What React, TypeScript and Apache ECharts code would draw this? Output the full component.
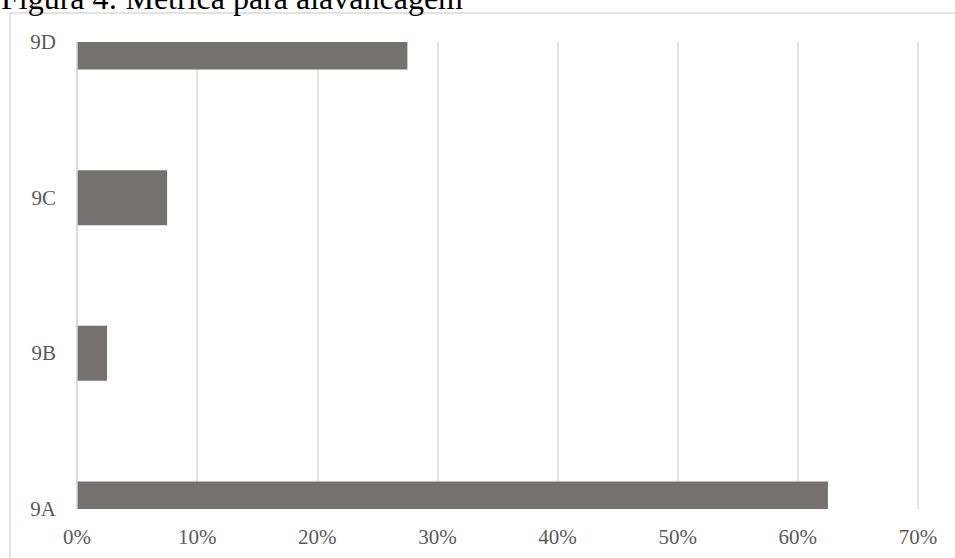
import React, { useEffect, useRef } from "react";
import * as echarts from "echarts";

const categories = ["9A", "9B", "9C", "9D"];
const values = [62.5, 2.5, 7.5, 27.5];
const xTicks = [0, 10, 20, 30, 40, 50, 60, 70];
const titleText = "Figura 4: Métrica para alavancagem";

export default function App() {
  const ref = useRef<HTMLDivElement>(null);
  useEffect(() => {
    if (!ref.current) return;
    const chart = echarts.init(ref.current, null, { renderer: "svg" });
    const font = "'Liberation Serif', 'Times New Roman', serif";
    const barH = 55;
    chart.setOption({
      animation: false,
      backgroundColor: "#ffffff",
      graphic: [
        {
          type: "rect",
          shape: { x: 10, y: 13, width: 960, height: 560 },
          style: { fill: "none", stroke: "#d9d9d9", lineWidth: 1.5 },
          z: 0,
        },
        {
          type: "text",
          x: 1,
          y: -2,
          style: {
            text: titleText,
            font: `32px ${font}`,
            fill: "#000000",
            verticalAlign: "middle",
          },
          z: 10,
        },
      ],
      grid: { left: 77, right: 37, top: 42, height: 467, containLabel: false },
      xAxis: {
        type: "value",
        min: xTicks[0],
        max: xTicks[xTicks.length - 1],
        interval: 10,
        axisLine: { show: false },
        axisTick: { show: false },
        splitLine: { show: true, lineStyle: { color: "#d9d9d9", width: 1.5 } },
        axisLabel: {
          formatter: "{value}%",
          color: "#595959",
          fontFamily: font,
          fontSize: 21,
          margin: 17,
        },
      },
      yAxis: {
        type: "category",
        data: categories,
        boundaryGap: false,
        axisLine: { show: true, lineStyle: { color: "#d9d9d9", width: 1.5 } },
        axisTick: { show: false },
        splitLine: { show: false },
        axisLabel: {
          color: "#595959",
          fontFamily: font,
          fontSize: 21,
          margin: 21,
        },
        z: 5,
      },
      series: [
        {
          type: "custom",
          data: values.map((v, i) => [v, i]),
          encode: { x: 0, y: 1 },
          renderItem: (params: any, api: any) => {
            const val = api.value(0);
            const idx = api.value(1);
            const start = api.coord([0, idx]);
            const end = api.coord([val, idx]);
            const cs = params.coordSys;
            const rect = echarts.graphic.clipRectByRect(
              { x: start[0], y: start[1] - barH / 2, width: end[0] - start[0], height: barH },
              { x: cs.x, y: cs.y, width: cs.width, height: cs.height }
            );
            return (
              rect && {
                type: "rect",
                shape: rect,
                style: { fill: "#767171" },
              }
            );
          },
          z: 2,
        },
      ],
    });
    return () => chart.dispose();
  }, []);
  return (
    <div
      ref={ref}
      style={{ position: "fixed", left: 0, top: 0, width: 955, height: 558 }}
    />
  );
}
